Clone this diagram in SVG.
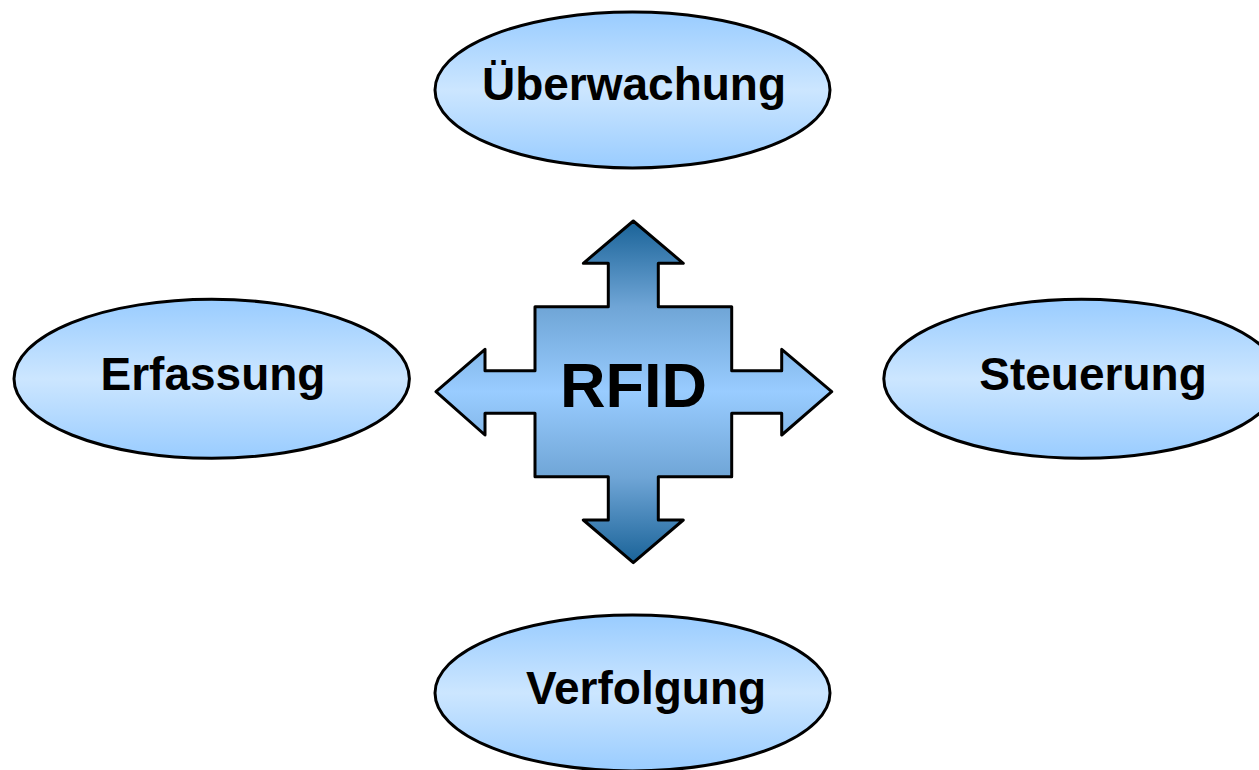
<svg xmlns="http://www.w3.org/2000/svg" width="1259" height="770" viewBox="0 0 1259 770">
<defs>
<linearGradient id="ellG" x1="0" y1="0" x2="0" y2="1">
<stop offset="0" stop-color="#99ccff"/>
<stop offset="0.5" stop-color="#cce6ff"/>
<stop offset="1" stop-color="#99ccff"/>
</linearGradient>
<linearGradient id="crossG" gradientUnits="userSpaceOnUse" x1="0" y1="221" x2="0" y2="563">
<stop offset="0" stop-color="#1a6398"/>
<stop offset="0.25" stop-color="#6fa5d6"/>
<stop offset="0.5" stop-color="#99ccff"/>
<stop offset="0.75" stop-color="#6fa5d6"/>
<stop offset="1" stop-color="#1a6398"/>
</linearGradient>
</defs>
<style>
.ell{fill:url(#ellG);stroke:#000;stroke-width:3}
.lbl{font-family:"Liberation Sans",Arial,sans-serif;font-weight:bold;font-size:46px;fill:#000;text-anchor:middle}
.cross{fill:url(#crossG);stroke:#000;stroke-width:3;stroke-linejoin:round}
</style>
<rect width="1259" height="770" fill="#fff"/>
<g id="connectors">
<path class="cross" d="M633.3,221 L683.3,263.3 L658.3,263.3 L658.3,306.7 L731.7,306.7 L731.7,370.7 L781.7,370.7 L781.7,349.3 L831.7,391.7 L781.7,435 L781.7,413.3 L731.7,413.3 L731.7,476.7 L658.3,476.7 L658.3,520 L683.3,520 L633.3,562.7 L583.3,520 L608.3,520 L608.3,476.7 L535,476.7 L535,413.3 L485,413.3 L485,435 L436,391.7 L485,349.3 L485,370.7 L535,370.7 L535,306.7 L608.3,306.7 L608.3,263.3 L583.3,263.3 Z"/>
</g>
<g id="rfid">
<text class="lbl" x="633.5" y="406.5" style="font-size:63px">RFID</text>
</g>
<g id="ueberwachung">
<ellipse class="ell" cx="632.5" cy="90" rx="197.5" ry="78"/>
<text class="lbl" x="634" y="99.5">Überwachung</text>
</g>
<g id="erfassung">
<ellipse class="ell" cx="211.7" cy="378.8" rx="197.7" ry="79.5"/>
<text class="lbl" x="213" y="389.5">Erfassung</text>
</g>
<g id="steuerung">
<ellipse class="ell" cx="1081.5" cy="378.8" rx="197.7" ry="79.5"/>
<text class="lbl" x="1093" y="389.5">Steuerung</text>
</g>
<g id="verfolgung">
<ellipse class="ell" cx="632.5" cy="693" rx="197.5" ry="78"/>
<text class="lbl" x="646" y="703.5">Verfolgung</text>
</g>
</svg>
